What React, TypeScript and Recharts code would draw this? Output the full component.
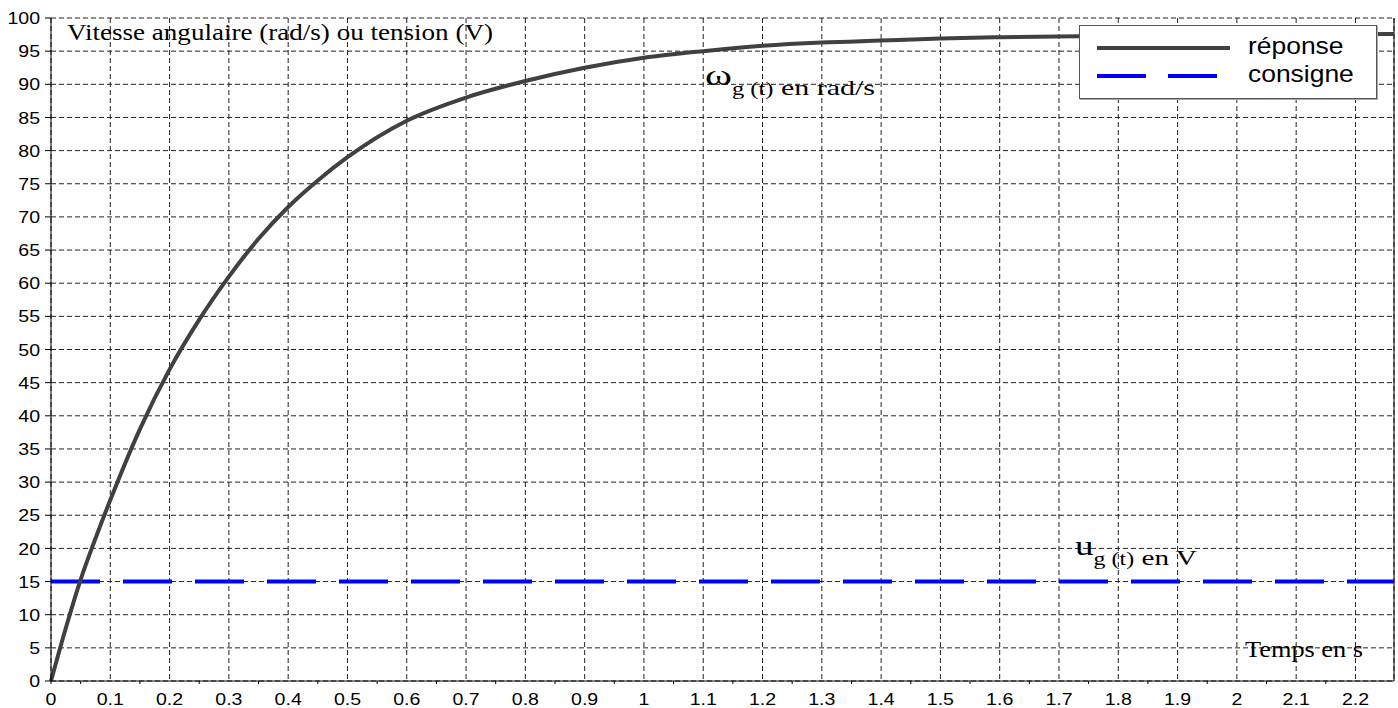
import {
  LineChart,
  Line,
  XAxis,
  YAxis,
  CartesianGrid,
  ReferenceLine,
  Legend,
  Customized,
} from "recharts";

// time axis (s)
const times = [
  0, 0.025, 0.05, 0.075, 0.1, 0.15, 0.2, 0.25, 0.3, 0.35, 0.4, 0.45, 0.5, 0.6,
  0.7, 0.8, 0.9, 1.0, 1.1, 1.2, 1.3, 1.4, 1.5, 1.6, 1.8, 2.0, 2.265,
];
// ω_g(t) in rad/s
const reponse = [
  0, 8, 15.3, 21.5, 27.3, 38, 47, 54.5, 61, 66.7, 71.5, 75.5, 79, 84.5, 88,
  90.5, 92.5, 94, 95, 95.8, 96.3, 96.6, 96.9, 97.1, 97.3, 97.5, 97.6,
];
// u_g(t) in V
const consigne = [
  15, 15, 15, 15, 15, 15, 15, 15, 15, 15, 15, 15, 15, 15, 15, 15, 15, 15, 15,
  15, 15, 15, 15, 15, 15, 15, 15,
];

const xMajor = [
  0, 0.1, 0.2, 0.3, 0.4, 0.5, 0.6, 0.7, 0.8, 0.9, 1, 1.1, 1.2, 1.3, 1.4, 1.5,
  1.6, 1.7, 1.8, 1.9, 2, 2.1, 2.2,
];
const xTicks = [
  0, 0.05, 0.1, 0.15, 0.2, 0.25, 0.3, 0.35, 0.4, 0.45, 0.5, 0.55, 0.6, 0.65,
  0.7, 0.75, 0.8, 0.85, 0.9, 0.95, 1, 1.05, 1.1, 1.15, 1.2, 1.25, 1.3, 1.35,
  1.4, 1.45, 1.5, 1.55, 1.6, 1.65, 1.7, 1.75, 1.8, 1.85, 1.9, 1.95, 2, 2.05,
  2.1, 2.15, 2.2,
];
const yTicks = [
  0, 5, 10, 15, 20, 25, 30, 35, 40, 45, 50, 55, 60, 65, 70, 75, 80, 85, 90, 95,
  100,
];

const XMAX = 2.265;
const REP_COLOR = "#404040";
const CONS_COLOR = "#0000ff";
const SANS = "Liberation Sans, Arial, sans-serif";
const SERIF = "Liberation Serif, Times New Roman, serif";

const rows = times.map((t, i) => ({
  t,
  reponse: reponse[i],
  consigne: consigne[i],
}));

const isMajor = (v: number) => Math.abs(v * 10 - Math.round(v * 10)) < 1e-6;

const EmptyTick = () => <g />;

const XTick = (props: any) => {
  const { x, y, payload } = props;
  const v = payload.value;
  const showLine = !isMajor(v) || v === 0;
  return (
    <g>
      {showLine && <line x1={x} x2={x} y1={y} y2={y + 3} stroke="#000" />}
      {isMajor(v) && (
        <g transform={`translate(${x},${y + 24}) scale(1.15,1)`}>
          <text textAnchor="middle" fontSize={17} fontFamily={SANS} fill="#000">
            {String(Math.round(v * 10) / 10)}
          </text>
        </g>
      )}
    </g>
  );
};

const YTick = (props: any) => {
  const { x, y, payload } = props;
  return (
    <g transform={`translate(${x},${y}) scale(1.15,1)`}>
      <text textAnchor="end" dy="0.36em" fontSize={17} fontFamily={SANS} fill="#000">
        {payload.value}
      </text>
    </g>
  );
};

const LegendBox = () => (
  <div
    style={{
      width: 296,
      height: 72,
      background: "#fff",
      border: "1px solid #555",
      boxShadow: "1px 1px 0 #aaa",
    }}
  >
    <svg width={296} height={72} style={{ display: "block" }}>
      <line x1={17} x2={150} y1={22} y2={22} stroke={REP_COLOR} strokeWidth={4} />
      <line
        x1={17}
        x2={137}
        y1={50}
        y2={50}
        stroke={CONS_COLOR}
        strokeWidth={4}
        strokeDasharray="49 22"
      />
      <g transform="translate(168,28) scale(1.15,1)">
        <text fontSize={23} fontFamily={SANS} fill="#000">
          réponse
        </text>
      </g>
      <g transform="translate(168,56) scale(1.15,1)">
        <text fontSize={23} fontFamily={SANS} fill="#000">
          consigne
        </text>
      </g>
    </svg>
  </div>
);

const Annotations = () => (
  <g fontFamily={SERIF} fill="#000" style={{ whiteSpace: "pre" }}>
    <text x={67} y={40} fontSize={23.5} textLength={426} lengthAdjust="spacingAndGlyphs">
      Vitesse angulaire (rad/s) ou  tension (V)
    </text>
    <text x={705} y={85} textLength={170} lengthAdjust="spacingAndGlyphs">
      <tspan fontSize={30}>ω</tspan>
      <tspan fontSize={18} dy={10}>g (t)</tspan>
      <tspan fontSize={22}> en rad/s</tspan>
    </text>
    <text x={1075} y={555} textLength={122} lengthAdjust="spacingAndGlyphs">
      <tspan fontSize={28}>u</tspan>
      <tspan fontSize={18} dy={10}>g (t)</tspan>
      <tspan fontSize={22}> en V</tspan>
    </text>
    <text x={1245} y={657} fontSize={23} textLength={118} lengthAdjust="spacingAndGlyphs">
      Temps en s
    </text>
  </g>
);

export default function App() {
  return (
    <div style={{ position: "absolute", left: 0, top: 0, background: "#fff" }}>
      <LineChart
        width={1398}
        height={708}
        data={rows}
        margin={{ top: 18, right: 4, left: 0, bottom: 0 }}
      >
        <CartesianGrid xAxisId="top" stroke="#222" strokeDasharray="5 3" />
        <XAxis
          xAxisId="top"
          orientation="top"
          dataKey="t"
          type="number"
          domain={[0, XMAX]}
          ticks={xMajor}
          interval={0}
          height={0}
          tick={<EmptyTick />}
          tickSize={-5}
          stroke="#000"
        />
        <XAxis
          dataKey="t"
          type="number"
          domain={[0, XMAX]}
          ticks={xTicks}
          interval={0}
          height={27}
          tick={<XTick />}
          tickLine={false}
          tickSize={0}
          tickMargin={0}
          stroke="#000"
        />
        <YAxis
          type="number"
          domain={[0, 100]}
          ticks={yTicks}
          interval={0}
          width={51}
          tick={<YTick />}
          tickSize={6}
          tickMargin={5}
          stroke="#000"
        />
        <ReferenceLine x={XMAX} stroke="#000" />
        <Line
          dataKey="consigne"
          name="consigne"
          stroke={CONS_COLOR}
          strokeWidth={4}
          strokeDasharray="49 23"
          dot={false}
          type="linear"
          isAnimationActive={false}
        />
        <Line
          dataKey="reponse"
          name="réponse"
          stroke={REP_COLOR}
          strokeWidth={4}
          dot={false}
          type="monotone"
          isAnimationActive={false}
        />
        <Legend
          layout="vertical"
          align="center"
          verticalAlign="middle"
          content={<LegendBox />}
          wrapperStyle={{ position: "absolute", left: 1079, top: 25, width: 298 }}
        />
        <Customized component={<Annotations />} />
      </LineChart>
    </div>
  );
}
